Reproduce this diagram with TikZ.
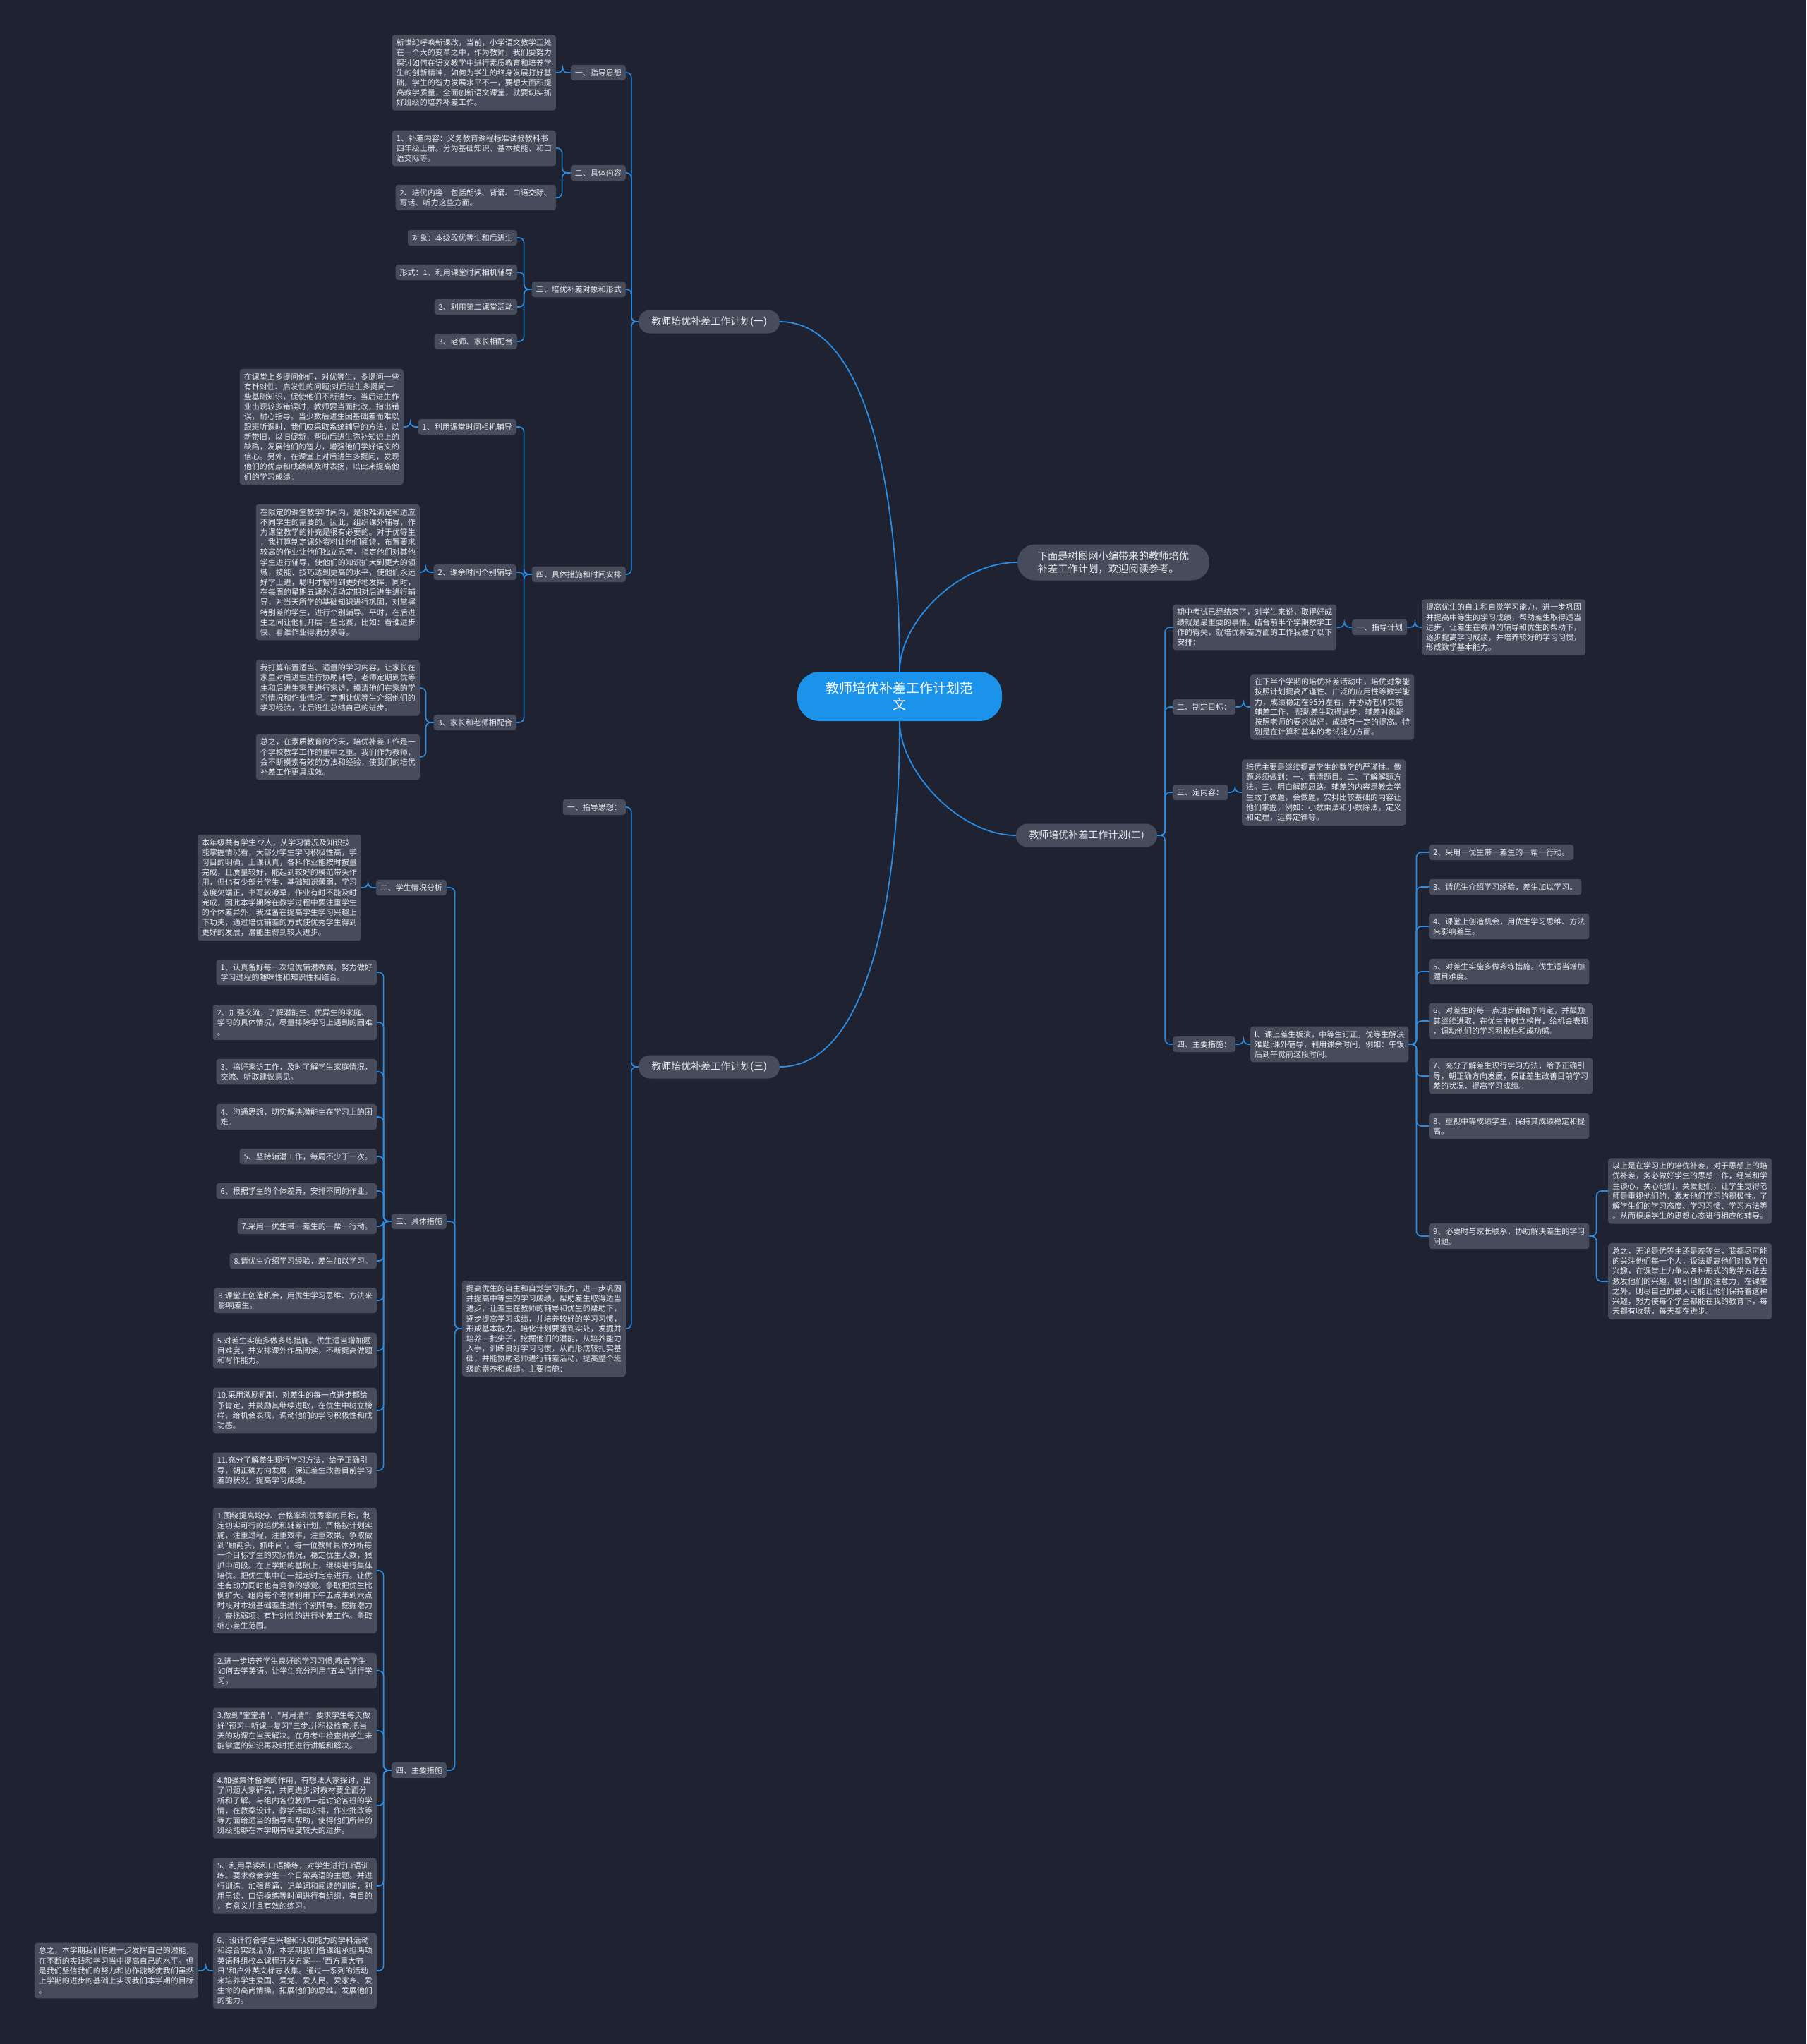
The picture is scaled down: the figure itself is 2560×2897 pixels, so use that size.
\documentclass[tikz,border=0pt]{standalone}
\usepackage{fontspec}
\newfontfamily\cjk{Noto Sans CJK SC}[Ligatures=TeXOff]
\definecolor{bg}{HTML}{1F2230}
\definecolor{nodegray}{HTML}{464C5B}
\definecolor{txt}{HTML}{E8EAEE}
\definecolor{lineblue}{HTML}{2A8DE4}
\definecolor{rootblue}{HTML}{1B93EB}
\tikzset{
 box/.style={fill=nodegray, rounded corners=4pt, text=txt, font=\cjk\fontsize{11}{14.2}\selectfont, align=left, inner xsep=6pt, inner ysep=6pt},
 lvl/.style={fill=nodegray, rounded corners=16pt, text=txt, font=\cjk\fontsize{14}{18}\selectfont, minimum width=200pt, minimum height=33pt, inner sep=0pt},
 intro/.style={fill=nodegray, rounded corners=25pt, text=txt, font=\cjk\fontsize{14.3}{18}\selectfont, align=left, minimum width=272pt, minimum height=51pt, inner sep=0pt},
 rootnode/.style={fill=rootblue, rounded corners=32pt, text=white, font=\cjk\fontsize{19}{23}\selectfont, align=center, minimum width=290pt, minimum height=70pt, inner sep=0pt},
 conn/.style={draw=lineblue, line width=1.6pt, rounded corners=7pt},
 mainconn/.style={draw=lineblue, line width=1.8pt},
}
\newcommand\linkL[3]{\draw[conn] (#1.west) -- ++(-#3,0) |- (#2.east);}
\newcommand\linkR[3]{\draw[conn] (#1.east) -- ++(#3,0) |- (#2.west);}
\begin{document}
\begin{tikzpicture}[x=1pt,y=-1pt]
\fill[bg] (0,0) rectangle (2560,2897);
\useasboundingbox (0,0) rectangle (2560,2897);

% root and level 1
\node[rootnode] (root) at (1275,987) {教师培优补差工作计划范\\文};
\node[intro] (intro) at (1578,797) {下面是树图网小编带来的教师培优\\补差工作计划，欢迎阅读参考。};
\node[lvl] (p1) at (1005,456) {教师培优补差工作计划(一)};
\node[lvl] (p2) at (1540,1184) {教师培优补差工作计划(二)};
\node[lvl] (p3) at (1005,1512) {教师培优补差工作计划(三)};
\draw[mainconn] (root.north) .. controls (1275,700) and (1230,456) .. (p1.east);
\draw[mainconn] (root.north) .. controls (1275,880) and (1360,797) .. (intro.west);
\draw[mainconn] (root.south) .. controls (1275,1093) and (1360,1184) .. (p2.west);
\draw[mainconn] (root.south) .. controls (1275,1273) and (1230,1512) .. (p3.east);

% ===== plan 1 =====
\node[box,anchor=east] (a1) at (887,103) {一、指导思想};
\node[box,anchor=east] (a1t) at (788,103) {新世纪呼唤新课改，当前，小学语文教学正处\\在一个大的变革之中，作为教师，我们要努力\\探讨如何在语文教学中进行素质教育和培养学\\生的创新精神，如何为学生的终身发展打好基\\础，学生的智力发展水平不一，要想大面积提\\高教学质量，全面创新语文课堂，就要切实抓\\好班级的培养补差工作。};
\node[box,anchor=east] (a2) at (887,245) {二、具体内容};
\node[box,anchor=east] (a2a) at (788,210) {1、补差内容：义务教育课程标准试验教科书\\四年级上册。分为基础知识、基本技能、和口\\语交际等。};
\node[box,anchor=east] (a2b) at (788,280) {2、培优内容：包括朗读、背诵、口语交际、\\写话、听力这些方面。};
\node[box,anchor=east] (a3) at (887,410) {三、培优补差对象和形式};
\node[box,anchor=east] (a3a) at (733,337) {对象：本级段优等生和后进生};
\node[box,anchor=east] (a3b) at (733,386) {形式：1、利用课堂时间相机辅导};
\node[box,anchor=east] (a3c) at (733,435) {2、利用第二课堂活动};
\node[box,anchor=east] (a3d) at (733,484) {3、老师、家长相配合};
\node[box,anchor=east] (a4) at (887,814) {四、具体措施和时间安排};
\node[box,anchor=east] (a4a) at (732,605) {1、利用课堂时间相机辅导};
\node[box,anchor=east] (a4at) at (572,605) {在课堂上多提问他们，对优等生，多提问一些\\有针对性、启发性的问题;对后进生多提问一\\些基础知识，促使他们不断进步。当后进生作\\业出现较多错误时，教师要当面批改，指出错\\误，耐心指导。当少数后进生因基础差而难以\\跟班听课时，我们应采取系统辅导的方法，以\\新带旧，以旧促新，帮助后进生弥补知识上的\\缺陷，发展他们的智力，增强他们学好语文的\\信心。另外，在课堂上对后进生多提问，发现\\他们的优点和成绩就及时表扬，以此来提高他\\们的学习成绩。};
\node[box,anchor=east] (a4b) at (732,811) {2、课余时间个别辅导};
\node[box,anchor=east] (a4bt) at (595,811) {在限定的课堂教学时间内，是很难满足和适应\\不同学生的需要的。因此，组织课外辅导，作\\为课堂教学的补充是很有必要的。对于优等生\\，我打算制定课外资料让他们阅读，布置要求\\较高的作业让他们独立思考，指定他们对其他\\学生进行辅导，使他们的知识扩大到更大的领\\域，技能、技巧达到更高的水平，使他们永远\\好学上进，聪明才智得到更好地发挥。同时，\\在每周的星期五课外活动定期对后进生进行辅\\导，对当天所学的基础知识进行巩固，对掌握\\特别差的学生，进行个别辅导。平时，在后进\\生之间让他们开展一些比赛，比如：看谁进步\\快、看谁作业得满分多等。};
\node[box,anchor=east] (a4c) at (732,1024) {3、家长和老师相配合};
\node[box,anchor=east] (a4ca) at (595,975) {我打算布置适当、适量的学习内容，让家长在\\家里对后进生进行协助辅导，老师定期到优等\\生和后进生家里进行家访，摸清他们在家的学\\习情况和作业情况。定期让优等生介绍他们的\\学习经验，让后进生总结自己的进步。};
\node[box,anchor=east] (a4cb) at (595,1073) {总之，在素质教育的今天，培优补差工作是一\\个学校教学工作的重中之重。我们作为教师，\\会不断摸索有效的方法和经验，使我们的培优\\补差工作更具成效。};
\foreach \c in {a1,a2,a3,a4} {\linkL{p1}{\c}{10}}
\linkL{a1}{a1t}{11}
\linkL{a2}{a2a}{12}
\linkL{a2}{a2b}{12}
\foreach \c in {a3a,a3b,a3c,a3d} {\linkL{a3}{\c}{11}}
\foreach \c in {a4a,a4b,a4c} {\linkL{a4}{\c}{11}}
\linkL{a4a}{a4at}{11}
\linkL{a4b}{a4bt}{11}
\linkL{a4c}{a4ca}{11}
\linkL{a4c}{a4cb}{11}

% ===== plan 2 =====
\node[box,anchor=west] (b1) at (1662,889) {期中考试已经结束了，对学生来说，取得好成\\绩就是最重要的事情。结合前半个学期数学工\\作的得失，就培优补差方面的工作我做了以下\\安排：};
\node[box,anchor=west] (b1n) at (1916,889) {一、指导计划};
\node[box,anchor=west] (b1t) at (2015,889) {提高优生的自主和自觉学习能力，进一步巩固\\并提高中等生的学习成绩，帮助差生取得适当\\进步，让差生在教师的辅导和优生的帮助下，\\逐步提高学习成绩，并培养较好的学习习惯，\\形成数学基本能力。};
\node[box,anchor=west] (b2) at (1662,1002) {二、制定目标：};
\node[box,anchor=west] (b2t) at (1772,1002) {在下半个学期的培优补差活动中，培优对象能\\按照计划提高严谨性、广泛的应用性等数学能\\力，成绩稳定在95分左右，并协助老师实施\\辅差工作， 帮助差生取得进步。辅差对象能\\按照老师的要求做好，成绩有一定的提高。特\\别是在计算和基本的考试能力方面。};
\node[box,anchor=west] (b3) at (1662,1123) {三、定内容：};
\node[box,anchor=west] (b3t) at (1760,1123) {培优主要是继续提高学生的数学的严谨性。做\\题必须做到：一、看清题目。二、了解解题方\\法。三、明白解题思路。辅差的内容是教会学\\生敢于做题，会做题，安排比较基础的内容让\\他们掌握，例如：小数乘法和小数除法，定义\\和定理，运算定律等。};
\node[box,anchor=west] (b4) at (1662,1480) {四、主要措施：};
\node[box,anchor=west] (b4t) at (1772,1480) {l、课上差生板演，中等生订正，优等生解决\\难题;课外辅导，利用课余时间，例如：午饭\\后到午觉前这段时间。};
\node[box,anchor=west] (m2) at (2025,1208) {2、采用一优生带一差生的一帮一行动。};
\node[box,anchor=west] (m3) at (2025,1257) {3、请优生介绍学习经验，差生加以学习。};
\node[box,anchor=west] (m4) at (2025,1313) {4、课堂上创造机会，用优生学习思维、方法\\来影响差生。};
\node[box,anchor=west] (m5) at (2025,1377) {5、对差生实施多做多练措施。优生适当增加\\题目难度。};
\node[box,anchor=west] (m6) at (2025,1447) {6、对差生的每一点进步都给予肯定，并鼓励\\其继续进取，在优生中树立榜样，给机会表现\\，调动他们的学习积极性和成功感。};
\node[box,anchor=west] (m7) at (2025,1525) {7、充分了解差生现行学习方法，给予正确引\\导，朝正确方向发展，保证差生改善目前学习\\差的状况，提高学习成绩。};
\node[box,anchor=west] (m8) at (2025,1596) {8、重视中等成绩学生，保持其成绩稳定和提\\高。};
\node[box,anchor=west] (m9) at (2025,1752) {9、必要时与家长联系，协助解决差生的学习\\问题。};
\node[box,anchor=west] (m9a) at (2279,1688) {以上是在学习上的培优补差，对于思想上的培\\优补差，务必做好学生的思想工作，经常和学\\生谈心，关心他们，关爱他们，让学生觉得老\\师是重视他们的，激发他们学习的积极性。了\\解学生们的学习态度、学习习惯、学习方法等\\。从而根据学生的思想心态进行相应的辅导。};
\node[box,anchor=west] (m9b) at (2279,1816) {总之，无论是优等生还是差等生，我都尽可能\\的关注他们每一个人，设法提高他们对数学的\\兴趣，在课堂上力争以各种形式的教学方法去\\激发他们的兴趣，吸引他们的注意力，在课堂\\之外，则尽自己的最大可能让他们保持着这种\\兴趣，努力使每个学生都能在我的教育下，每\\天都有收获，每天都在进步。};
\foreach \c in {b1,b2,b3,b4} {\linkR{p2}{\c}{11}}
\linkR{b1}{b1n}{11}
\linkR{b1n}{b1t}{11}
\linkR{b2}{b2t}{11}
\linkR{b3}{b3t}{10}
\linkR{b4}{b4t}{11}
\foreach \c in {m2,m3,m4,m5,m6,m7,m8,m9} {\linkR{b4t}{\c}{11}}
\linkR{m9}{m9a}{10}
\linkR{m9}{m9b}{10}

% ===== plan 3 =====
\node[box,anchor=east] (d1) at (887,1144) {一、指导思想：};
\node[box,anchor=east] (d2) at (887,1883) {提高优生的自主和自觉学习能力，进一步巩固\\并提高中等生的学习成绩，帮助差生取得适当\\进步，让差生在教师的辅导和优生的帮助下，\\逐步提高学习成绩，并培养较好的学习习惯，\\形成基本能力。培化计划要落到实处，发掘并\\培养一批尖子，挖掘他们的潜能，从培养能力\\入手，训练良好学习习惯，从而形成较扎实基\\础，并能协助老师进行辅差活动，提高整个班\\级的素养和成绩。主要措施：};
\node[box,anchor=east] (e1) at (633,1258) {二、学生情况分析};
\node[box,anchor=east] (e1t) at (512,1258) {本年级共有学生72人，从学习情况及知识技\\能掌握情况看，大部分学生学习积极性高，学\\习目的明确，上课认真，各科作业能按时按量\\完成，且质量较好，能起到较好的模范带头作\\用，但也有少部分学生，基础知识薄弱，学习\\态度欠端正，书写较潦草，作业有时不能及时\\完成，因此本学期除在教学过程中要注重学生\\的个体差异外，我准备在提高学生学习兴趣上\\下功夫，通过培优辅差的方式使优秀学生得到\\更好的发展，潜能生得到较大进步。};
\node[box,anchor=east] (e2) at (633,1731) {三、具体措施};
\node[box,anchor=east] (s1) at (534,1378) {1、认真备好每一次培优辅潜教案，努力做好\\学习过程的趣味性和知识性相结合。};
\node[box,anchor=east] (s2) at (534,1449) {2、加强交流，了解潜能生、优异生的家庭、\\学习的具体情况，尽量排除学习上遇到的困难\\。};
\node[box,anchor=east] (s3) at (534,1519) {3、搞好家访工作，及时了解学生家庭情况，\\交流、听取建议意见。};
\node[box,anchor=east] (s4) at (534,1583) {4、沟通思想，切实解决潜能生在学习上的困\\难。};
\node[box,anchor=east] (s5) at (534,1639) {5、坚持辅潜工作，每周不少于一次。};
\node[box,anchor=east] (s6) at (534,1688) {6、根据学生的个体差异，安排不同的作业。};
\node[box,anchor=east] (s7) at (534,1738) {7.采用一优生带一差生的一帮一行动。};
\node[box,anchor=east] (s8) at (534,1787) {8.请优生介绍学习经验，差生加以学习。};
\node[box,anchor=east] (s9) at (534,1843) {9.课堂上创造机会，用优生学习思维、方法来\\影响差生。};
\node[box,anchor=east] (s10) at (534,1914) {5.对差生实施多做多练措施。优生适当增加题\\目难度，并安排课外作品阅读，不断提高做题\\和写作能力。};
\node[box,anchor=east] (s11) at (534,1999) {10.采用激励机制，对差生的每一点进步都给\\予肯定，并鼓励其继续进取，在优生中树立榜\\样，给机会表现，调动他们的学习积极性和成\\功感。};
\node[box,anchor=east] (s12) at (534,2084) {11.充分了解差生现行学习方法，给予正确引\\导，朝正确方向发展，保证差生改善目前学习\\差的状况，提高学习成绩。};
\node[box,anchor=east] (e3) at (633,2509) {四、主要措施};
\node[box,anchor=east] (f1) at (534,2226) {1.围绕提高均分、合格率和优秀率的目标，制\\定切实可行的培优和辅差计划，严格按计划实\\施，注重过程，注重效率，注重效果。争取做\\到"顾两头，抓中间"。每一位教师具体分析每\\一个目标学生的实际情况，稳定优生人数，狠\\抓中间段。在上学期的基础上，继续进行集体\\培优。把优生集中在一起定时定点进行。让优\\生有动力同时也有竞争的感觉。争取把优生比\\例扩大。组内每个老师利用下午五点半到六点\\时段对本班基础差生进行个别辅导。挖掘潜力\\，查找弱项，有针对性的进行补差工作。争取\\缩小差生范围。};
\node[box,anchor=east] (f2) at (534,2368) {2.进一步培养学生良好的学习习惯,教会学生\\如何去学英语。让学生充分利用"五本"进行学\\习。};
\node[box,anchor=east] (f3) at (534,2453) {3.做到"堂堂清"，"月月清"：要求学生每天做\\好"预习—听课—复习"三步.并积极检查.把当\\天的功课在当天解决。在月考中检查出学生未\\能掌握的知识再及时把进行讲解和解决。};
\node[box,anchor=east] (f4) at (534,2559) {4.加强集体备课的作用，有想法大家探讨，出\\了问题大家研究，共同进步;对教材要全面分\\析和了解。与组内各位教师一起讨论各班的学\\情，在教案设计，教学活动安排，作业批改等\\等方面给适当的指导和帮助，使得他们所带的\\班级能够在本学期有幅度较大的进步。};
\node[box,anchor=east] (f5) at (534,2673) {5、利用早读和口语操练，对学生进行口语训\\练。要求教会学生一个日常英语的主题。并进\\行训练。加强背诵，记单词和阅读的训练，利\\用早读，口语操练等时间进行有组织，有目的\\，有意义并且有效的练习。};
\node[box,anchor=east] (f6) at (534,2793) {6、设计符合学生兴趣和认知能力的学科活动\\和综合实践活动，本学期我们备课组承担两项\\英语科组校本课程开发方案----"西方重大节\\日"和户外英文标志收集。通过一系列的活动\\来培养学生爱国、爱党、爱人民、爱家乡、爱\\生命的高尚情操，拓展他们的思维，发展他们\\的能力。};
\node[box,anchor=east] (f6t) at (281,2793) {总之，本学期我们将进一步发挥自己的潜能，\\在不断的实践和学习当中提高自己的水平。但\\是我们坚信我们的努力和协作能够使我们虽然\\上学期的进步的基础上实现我们本学期的目标\\。};
\linkL{p3}{d1}{10}
\linkL{p3}{d2}{10}
\foreach \c in {e1,e2,e3} {\linkL{d2}{\c}{10}}
\linkL{e1}{e1t}{11}
\foreach \c in {s1,s2,s3,s4,s5,s6,s7,s8,s9,s10,s11,s12} {\linkL{e2}{\c}{11}}
\foreach \c in {f1,f2,f3,f4,f5,f6} {\linkL{e3}{\c}{11}}
\linkL{f6}{f6t}{10}
\end{tikzpicture}
\end{document}
